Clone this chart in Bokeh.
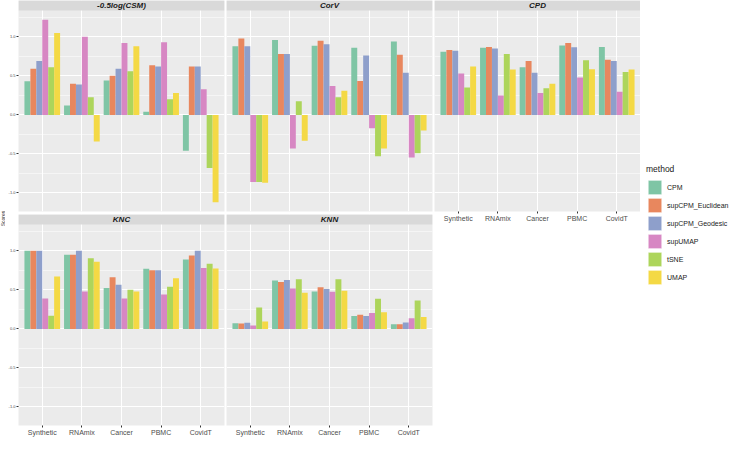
import math
from bokeh.plotting import figure
from bokeh.layouts import row, column
from bokeh.models import (ColumnDataSource, FactorRange, Range1d, FixedTicker,
                          PrintfTickFormatter, BoxAnnotation)
from bokeh.transform import dodge
from bokeh.core.properties import value
from bokeh.embed import file_html
from bokeh.resources import INLINE

# ---------------- data ----------------
categories = ["Synthetic", "RNAmix", "Cancer", "PBMC", "CovidT"]
methods = ["CPM", "supCPM_Euclidean", "supCPM_Geodesic", "supUMAP", "tSNE", "UMAP"]
colors = ["#7FC5A5", "#E8875E", "#8E9FCB", "#D787C3", "#ADD55B", "#F4D945"]

csm = {
    "CPM": [0.43, 0.12, 0.44, 0.04, -0.46],
    "supCPM_Euclidean": [0.59, 0.40, 0.50, 0.635, 0.62],
    "supCPM_Geodesic": [0.69, 0.39, 0.59, 0.62, 0.62],
    "supUMAP": [1.22, 1.00, 0.92, 0.93, 0.33],
    "tSNE": [0.61, 0.225, 0.56, 0.20, -0.68],
    "UMAP": [1.05, -0.34, 0.88, 0.28, -1.12],
}
corv = {
    "CPM": [0.88, 0.96, 0.885, 0.86, 0.94],
    "supCPM_Euclidean": [0.98, 0.78, 0.95, 0.435, 0.77],
    "supCPM_Geodesic": [0.88, 0.78, 0.905, 0.76, 0.54],
    "supUMAP": [-0.86, -0.43, 0.37, -0.17, -0.545],
    "tSNE": [-0.86, 0.176, 0.225, -0.53, -0.49],
    "UMAP": [-0.87, -0.33, 0.31, -0.43, -0.20],
}
cpd = {
    "CPM": [0.81, 0.86, 0.61, 0.89, 0.87],
    "supCPM_Euclidean": [0.83, 0.87, 0.69, 0.92, 0.705],
    "supCPM_Geodesic": [0.82, 0.85, 0.54, 0.865, 0.69],
    "supUMAP": [0.53, 0.25, 0.28, 0.48, 0.295],
    "tSNE": [0.35, 0.78, 0.34, 0.70, 0.55],
    "UMAP": [0.62, 0.58, 0.40, 0.585, 0.58],
}
knc = {
    "CPM": [1.0, 0.95, 0.525, 0.77, 0.89],
    "supCPM_Euclidean": [1.0, 0.95, 0.66, 0.75, 0.94],
    "supCPM_Geodesic": [1.0, 1.0, 0.565, 0.75, 1.0],
    "supUMAP": [0.39, 0.48, 0.39, 0.44, 0.78],
    "tSNE": [0.17, 0.905, 0.50, 0.54, 0.835],
    "UMAP": [0.67, 0.86, 0.48, 0.65, 0.775],
}
knn = {
    "CPM": [0.074, 0.62, 0.48, 0.164, 0.061],
    "supCPM_Euclidean": [0.07, 0.60, 0.533, 0.18, 0.061],
    "supCPM_Geodesic": [0.08, 0.627, 0.512, 0.164, 0.082],
    "supUMAP": [0.045, 0.516, 0.475, 0.205, 0.135],
    "tSNE": [0.275, 0.635, 0.635, 0.385, 0.365],
    "UMAP": [0.094, 0.463, 0.488, 0.213, 0.152],
}
y_ticks = [-1.0, -0.5, 0.0, 0.5, 1.0]
y_minor = [-1.25, -0.75, -0.25, 0.25, 0.75, 1.25]

# ---------------- layout constants ----------------
FONT = "Liberation Sans"
FRAME_W = 206
PANEL_H = 201
STRIP_H = 10
TXT = "#4D4D4D"

all_vals = [v for d in (csm, corv, cpd, knc, knn) for m in methods for v in d[m]]
lo, hi = min(all_vals), max(all_vals)
pad = 0.05 * (hi - lo)
y0, y1 = lo - pad, hi + pad
upx = (y1 - y0) / PANEL_H
ytop = y1 + STRIP_H * upx

minor_in = [t for t in y_minor if y0 <= t <= y1]


def panel(title, data, left_axis=False, bottom_axis=False, gap_right=2, gap_bottom=0):
    p = figure(x_range=FactorRange(*categories, range_padding=0.1, range_padding_units="absolute"),
               y_range=Range1d(y0, ytop),
               frame_width=FRAME_W, frame_height=PANEL_H + STRIP_H,
               output_backend="svg", toolbar_location=None,
               x_axis_location="below" if bottom_axis else None,
               y_axis_location="left" if left_axis else None,
               min_border_left=0, min_border_right=gap_right,
               min_border_top=0, min_border_bottom=gap_bottom)
    p.background_fill_color = "#EBEBEB"
    p.border_fill_color = "white"
    p.outline_line_color = None

    p.ygrid.ticker = FixedTicker(ticks=y_ticks, minor_ticks=minor_in)
    p.ygrid.grid_line_color = "white"
    p.ygrid.grid_line_width = 1
    p.ygrid.minor_grid_line_color = "white"
    p.ygrid.minor_grid_line_width = 0.5
    p.xgrid.grid_line_color = "white"
    p.xgrid.grid_line_width = 1

    src = ColumnDataSource(dict(cat=categories, **{m: data[m] for m in methods}))
    n = len(methods)
    w = 0.9 / n
    for i, (m, c) in enumerate(zip(methods, colors)):
        off = -0.45 + w * (i + 0.5)
        p.vbar(x=dodge("cat", off, range=p.x_range), top=m, bottom=0, width=w,
               source=src, fill_color=c, line_color=None)

    strip = BoxAnnotation(bottom=y1, fill_color="#D9D9D9", fill_alpha=1.0, line_color=None)
    p.add_layout(strip)
    t = p.text(x=[categories[2]], y=[y1 + STRIP_H * upx / 2], text=[title],
               text_font=value(FONT), text_font_size="8px", text_font_style="bold italic",
               text_color="#1A1A1A", text_align="center", text_baseline="middle")
    t.level = "overlay"

    if left_axis:
        ax = p.yaxis[0]
        ax.ticker = FixedTicker(ticks=y_ticks)
        ax.formatter = PrintfTickFormatter(format="%.1f")
        ax.major_label_text_font = FONT
        ax.major_label_text_font_size = "4px"
        ax.major_label_text_color = TXT
        ax.major_tick_out = 2
        ax.major_tick_in = 0
        ax.major_tick_line_color = "#333333"
        ax.minor_tick_line_color = None
        ax.axis_line_color = None
        ax.major_label_standoff = 1
    if bottom_axis:
        ax = p.xaxis[0]
        ax.major_label_text_font = FONT
        ax.major_label_text_font_size = "7px"
        ax.major_label_text_color = TXT
        ax.major_tick_out = 2
        ax.major_tick_in = 0
        ax.major_tick_line_color = "#333333"
        ax.axis_line_color = None
        ax.major_label_standoff = 1
    return p


f1 = panel("-0.5log(CSM)", csm, left_axis=True, gap_bottom=3)
f2 = panel("CorV", corv, gap_bottom=3)
f3 = panel("CPD", cpd, bottom_axis=True, gap_right=0)
f4 = panel("KNC", knc, left_axis=True, bottom_axis=True)
f5 = panel("KNN", knn, bottom_axis=True)

TOTAL_H = 2 * (PANEL_H + STRIP_H) + 3 + 11

# y axis title
fs = figure(width=5, height=TOTAL_H, x_range=Range1d(0, 1), y_range=Range1d(0, 1),
            output_backend="svg", toolbar_location=None,
            x_axis_location=None, y_axis_location=None,
            min_border=0)
fs.outline_line_color = None
fs.xgrid.visible = False
fs.ygrid.visible = False
fs.text(x=[0.5], y=[0.5], text=["Scores"], angle=math.pi / 2,
        text_font=value(FONT), text_font_size="5px", text_color="#1A1A1A",
        text_align="center", text_baseline="middle")

# legend (its bars lie outside the visible y range; only the keys show)
fl = figure(width=100, height=TOTAL_H, x_range=FactorRange(*categories), y_range=Range1d(5, 6),
            output_backend="svg", toolbar_location=None,
            x_axis_location=None, y_axis_location=None, min_border=0)
fl.outline_line_color = None
fl.xgrid.visible = False
fl.ygrid.visible = False
lsrc = ColumnDataSource(dict(cat=categories, **{m: knc[m] for m in methods}))
for m, c in zip(methods, colors):
    fl.vbar(x="cat", top=m, bottom=0, width=0.1, source=lsrc, fill_color=c,
            line_color="white", line_width=0.6, legend_label=m)
lg = fl.legend[0]
lg.location = (6, 150)
lg.margin = 0
lg.padding = 0
lg.spacing = 0
lg.glyph_width = 17
lg.glyph_height = 18
lg.label_height = 18
lg.label_standoff = 4
lg.border_line_color = None
lg.background_fill_alpha = 0
lg.title = "method"
lg.title_text_font = FONT
lg.title_text_font_size = "8.5px"
lg.title_text_font_style = "normal"
lg.title_text_color = "#1A1A1A"
lg.title_standoff = 4
lg.label_text_font = FONT
lg.label_text_font_size = "7px"
lg.label_text_color = "#1A1A1A"

layout = row(fs, column(f1, f4, spacing=0), column(f2, f5, spacing=0), column(f3), fl, spacing=0)

open("out.html", "w").write(file_html(layout, INLINE))
